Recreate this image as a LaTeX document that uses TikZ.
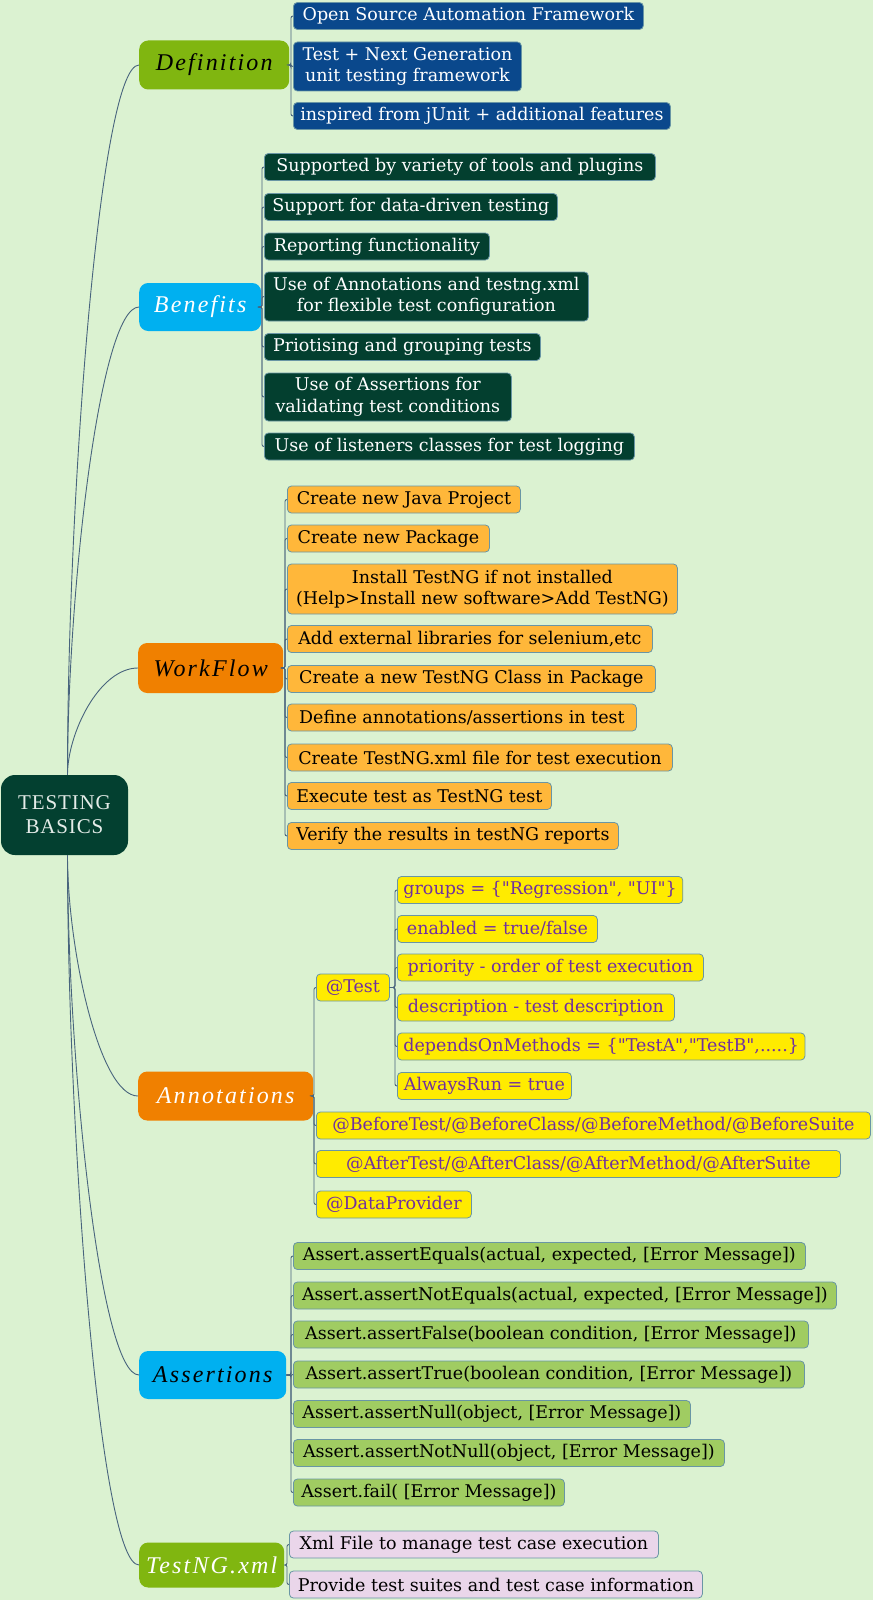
\documentclass[tikz,border=0pt]{standalone}
\usepackage{fontspec}
\setmainfont{DejaVu Serif}[Ligatures=TeXOff]
\newfontfamily\brfont[LetterSpace=9]{Liberation Serif}
\newfontfamily\rootfont[LetterSpace=4]{Liberation Serif}
\usetikzlibrary{calc}
\definecolor{bgcol}{RGB}{219,242,209}
\definecolor{conncol}{RGB}{72,100,125}
\definecolor{leafborder}{RGB}{105,150,165}
\definecolor{rootcol}{RGB}{3,64,48}
\definecolor{olive}{RGB}{128,182,16}
\definecolor{cyanb}{RGB}{0,176,240}
\definecolor{orangeb}{RGB}{240,128,0}
\definecolor{defblue}{RGB}{10,72,140}
\definecolor{bengreen}{RGB}{3,63,47}
\definecolor{wforange}{RGB}{255,183,58}
\definecolor{annyellow}{RGB}{255,235,0}
\definecolor{annpurple}{RGB}{112,48,160}
\definecolor{assgreen}{RGB}{160,204,98}
\definecolor{xmlpink}{RGB}{234,214,234}
\newcommand\leaffont{\fontsize{17.5}{21.5}\selectfont}
\newcommand\dq{\symbol{34}}
\newcommand\rootlink[2]{\draw[conn] let \p1=(#1), \p2=(#2.west) in (\p1) .. controls (\x1,{\y1+0.387*(\y2-\y1)}) and ({\x1+0.45*(\x2-\x1)},\y2) .. (\p2);}
\newcommand\brlink[2]{\draw[conn,rounded corners=2pt] (#1.east) -| ([xshift=-2pt]#2.west) -- (#2.west);}
\tikzset{
  conn/.style={draw=conncol, line width=0.9pt},
  leaf/.style={draw=leafborder, line width=0.8pt, rounded corners=4pt, minimum height=27pt, inner xsep=6pt, inner ysep=2pt, anchor=west, align=center, font=\leaffont},
  defleaf/.style={leaf, fill=defblue, text=white},
  benleaf/.style={leaf, fill=bengreen, text=white},
  wfleaf/.style={leaf, fill=wforange, text=black},
  annleaf/.style={leaf, fill=annyellow, text=annpurple},
  assleaf/.style={leaf, fill=assgreen, text=black},
  xmlleaf/.style={leaf, fill=xmlpink, text=black},
  branch/.style={rounded corners=9pt, anchor=west, inner sep=0pt, font=\brfont\itshape\fontsize{24}{27}\selectfont},
  rootnode/.style={fill=rootcol, rounded corners=14pt, inner sep=0pt, align=center, text={rgb,255:red,228;green,236;blue,232}, font=\rootfont\fontsize{21}{24}\selectfont}
}
\begin{document}
\begin{tikzpicture}[x=1pt,y=-1pt]
\useasboundingbox (0,0) rectangle (873,1600);
\fill[bgcol] (0,0) rectangle (873,1600);

% root
\node[rootnode, minimum width=127pt, minimum height=80pt] (root) at (64.5,815) {TESTING\\BASICS};

% branch nodes
\node[branch, fill=olive, text=black, minimum width=150pt, minimum height=49pt] (def) at (139,65) {Definition};
\node[branch, fill=cyanb, text=white, minimum width=122pt, minimum height=48pt] (ben) at (139,307) {Benefits};
\node[branch, fill=orangeb, text=black, minimum width=145pt, minimum height=50pt] (wf) at (138,668) {WorkFlow};
\node[branch, fill=orangeb, text=white, minimum width=175pt, minimum height=49pt] (ann) at (138,1096) {Annotations};
\node[branch, fill=cyanb, text=black, minimum width=147pt, minimum height=48pt] (ass) at (139,1375) {Assertions};
\node[branch, fill=olive, text=white, minimum width=145pt, minimum height=45pt] (xml) at (139,1565) {TestNG.xml};

% root links
\coordinate (rt) at ([xshift=3pt]root.north);
\coordinate (rb) at ([xshift=3pt]root.south);
\rootlink{rt}{def}
\rootlink{rt}{ben}
\rootlink{rt}{wf}
\rootlink{rb}{ann}
\rootlink{rb}{ass}
\rootlink{rb}{xml}

% Definition
\node[defleaf, minimum width=350pt] (d1) at (293,16) {Open Source Automation Framework};
\node[defleaf, minimum width=228pt, minimum height=49pt] (d2) at (293,66.5) {Test + Next Generation\\unit testing framework};
\node[defleaf, minimum width=377pt] (d3) at (293,116) {inspired from jUnit + additional features};
\foreach \c in {d1,d2,d3} {\brlink{def}{\c}}

% Benefits
\node[benleaf, minimum width=391pt] (b1) at (264,167) {Supported by variety of tools and plugins};
\node[benleaf, minimum width=293pt] (b2) at (264,207) {Support for data-driven testing};
\node[benleaf, minimum width=225pt] (b3) at (264,246.5) {Reporting functionality};
\node[benleaf, minimum width=324pt, minimum height=49pt] (b4) at (264,296.5) {Use of Annotations and testng.xml\\for flexible test configuration};
\node[benleaf, minimum width=276pt] (b5) at (264,347) {Priotising and grouping tests};
\node[benleaf, minimum width=247pt, minimum height=48pt] (b6) at (264,397) {Use of Assertions for\\validating test conditions};
\node[benleaf, minimum width=370pt] (b7) at (264,446.5) {Use of listeners classes for test logging};
\foreach \c in {b1,b2,b3,b4,b5,b6,b7} {\brlink{ben}{\c}}

% WorkFlow
\node[wfleaf, minimum width=233pt] (w1) at (287,499.5) {Create new Java Project};
\node[wfleaf, minimum width=202pt] (w2) at (287,538.5) {Create new Package};
\node[wfleaf, minimum width=390pt, minimum height=50pt] (w3) at (287,589) {Install TestNG if not installed\\(Help>Install new software>Add TestNG)};
\node[wfleaf, minimum width=365pt] (w4) at (287,639) {Add external libraries for selenium,etc};
\node[wfleaf, minimum width=368pt] (w5) at (287,679) {Create a new TestNG Class in Package};
\node[wfleaf, minimum width=349pt] (w6) at (287,717.5) {Define annotations/assertions in test};
\node[wfleaf, minimum width=385pt] (w7) at (287,757.5) {Create TestNG.xml file for test execution};
\node[wfleaf, minimum width=264pt] (w8) at (287,796) {Execute test as TestNG test};
\node[wfleaf, minimum width=331pt] (w9) at (287,836) {Verify the results in testNG reports};
\foreach \c in {w1,w2,w3,w4,w5,w6,w7,w8,w9} {\brlink{wf}{\c}}

% Annotations
\node[annleaf, minimum width=73pt] (a1) at (316,987.5) {@Test};
\node[annleaf, minimum width=275pt] (t1) at (397,890) {groups = \{\dq Regression\dq, \dq UI\dq\}};
\node[annleaf, minimum width=200pt] (t2) at (397,929) {enabled = true/false};
\node[annleaf, minimum width=306pt] (t3) at (397,967.5) {priority - order of test execution};
\node[annleaf, minimum width=277pt] (t4) at (397,1007.5) {description - test description};
\node[annleaf, minimum width=401pt] (t5) at (397,1046.5) {dependsOnMethods = \{\dq TestA\dq,\dq TestB\dq,.....\}};
\node[annleaf, minimum width=174pt] (t6) at (397,1086) {AlwaysRun = true};
\foreach \c in {t1,t2,t3,t4,t5,t6} {\brlink{a1}{\c}}
\node[annleaf, minimum width=554pt] (a2) at (316,1125.5) {@BeforeTest/@BeforeClass/@BeforeMethod/@BeforeSuite};
\node[annleaf, minimum width=524pt] (a3) at (316,1164) {@AfterTest/@AfterClass/@AfterMethod/@AfterSuite};
\node[annleaf, minimum width=155pt] (a4) at (316,1204.5) {@DataProvider};
\foreach \c in {a1,a2,a3,a4} {\brlink{ann}{\c}}

% Assertions
\node[assleaf, minimum width=512pt] (s1) at (293,1256) {Assert.assertEquals(actual, expected, [Error Message])};
\node[assleaf, minimum width=543pt] (s2) at (293,1295.5) {Assert.assertNotEquals(actual, expected, [Error Message])};
\node[assleaf, minimum width=515pt] (s3) at (293,1334.5) {Assert.assertFalse(boolean condition, [Error Message])};
\node[assleaf, minimum width=511pt] (s4) at (293,1374.5) {Assert.assertTrue(boolean condition, [Error Message])};
\node[assleaf, minimum width=397pt] (s5) at (293,1414) {Assert.assertNull(object, [Error Message])};
\node[assleaf, minimum width=431pt] (s6) at (293,1453) {Assert.assertNotNull(object, [Error Message])};
\node[assleaf, minimum width=271pt] (s7) at (293,1492.5) {Assert.fail( [Error Message])};
\foreach \c in {s1,s2,s3,s4,s5,s6,s7} {\brlink{ass}{\c}}

% TestNG.xml
\node[xmlleaf, minimum width=369pt] (x1) at (289,1544.5) {Xml File to manage test case execution};
\node[xmlleaf, minimum width=413pt] (x2) at (289,1584.5) {Provide test suites and test case information};
\foreach \c in {x1,x2} {\brlink{xml}{\c}}
\end{tikzpicture}
\end{document}
